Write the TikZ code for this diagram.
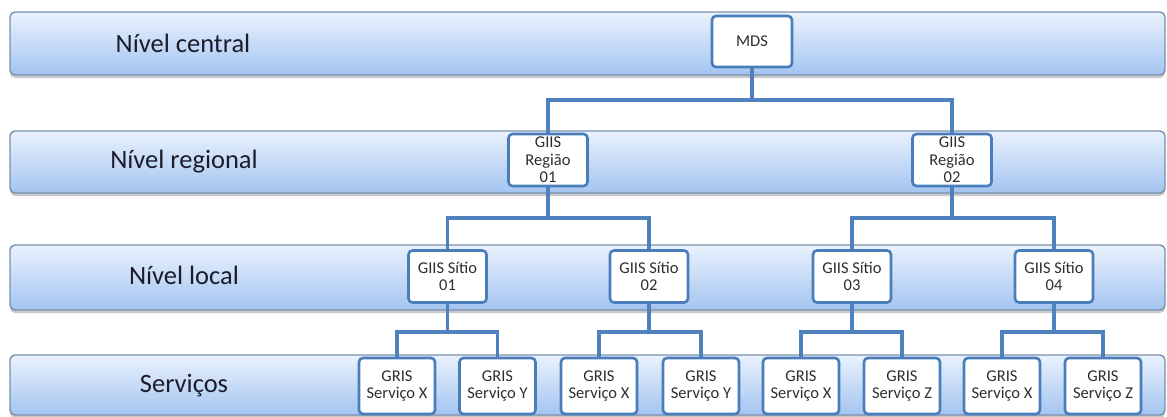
\documentclass[tikz,border=0pt]{standalone}
\usepackage{fontspec}
\setmainfont{Carlito}
\usetikzlibrary{shadows}
\definecolor{bandtop}{HTML}{EAF2FD}
\definecolor{bandbot}{HTML}{A3C4F0}
\definecolor{bandedge}{HTML}{7890B0}
\definecolor{boxedge}{HTML}{4A7EBB}
\definecolor{linkblue}{HTML}{4F81BD}
\definecolor{lvltext}{HTML}{1C1C2A}
\definecolor{boxtext}{HTML}{2E2E2E}
\pgfdeclarelayer{bands}
\pgfdeclarelayer{links}
\pgfsetlayers{bands,links,main}
\begin{document}
\begin{tikzpicture}[x=1pt,y=-1pt,
  band/.style={draw=bandedge, line width=1.4pt, rounded corners=5pt,
    top color=bandtop, bottom color=bandbot, minimum width=1155pt, inner sep=0pt,
    drop shadow={shadow xshift=0pt, shadow yshift=-3pt, opacity=0.3, fill=black!70}},
  lvl/.style={font=\fontsize{26.5}{30}\selectfont, text=lvltext, inner sep=0pt},
  unit/.style={draw=boxedge, line width=2.6pt, fill=white, rounded corners=4pt,
    align=center, inner sep=0pt, text=boxtext,
    font=\fontsize{16.5}{17.5}\selectfont},
  top/.style={unit, minimum width=80pt, minimum height=51pt},
  reg/.style={unit, minimum width=79pt, minimum height=52pt},
  site/.style={unit, minimum width=78pt, minimum height=52pt},
  svc/.style={unit, minimum width=76pt, minimum height=56pt},
  conn/.style={draw=linkblue, line width=3.2pt}]
\useasboundingbox (0,0) rectangle (1167,416);

% level bands
\begin{pgfonlayer}{bands}
\node[band, minimum height=63pt] (b1) at (587.5,43.5) {};
\node[band, minimum height=62pt] (b2) at (587.5,162) {};
\node[band, minimum height=65pt] (b3) at (587.5,277.5) {};
\node[band, minimum height=60pt] (b4) at (587.5,385) {};
\end{pgfonlayer}

% level names
\node[lvl] (l1) at (183,43) {Nível central};
\node[lvl] (l2) at (184,162) {Nível regional};
\node[lvl] (l3) at (184,275) {Nível local};
\node[lvl] (l4) at (184,386) {Serviços};

% bus heights
\coordinate (bus0) at (0,100);
\coordinate (bus1) at (0,218);
\coordinate (bus2) at (0,332);

% units of the hierarchy
\node[top] (mds) at (752,41.5) {MDS};
\node[reg] (r1) at (548,160) {GIIS\\Região\\01};
\node[reg] (r2) at (952,160) {GIIS\\Região\\02};
\node[site] (s1) at (447.5,276.5) {GIIS Sítio\\01};
\node[site] (s2) at (649,276.5) {GIIS Sítio\\02};
\node[site] (s3) at (852,276.5) {GIIS Sítio\\03};
\node[site] (s4) at (1054,276.5) {GIIS Sítio\\04};
\node[svc] (v1) at (397,386) {GRIS\\Serviço X};
\node[svc] (v2) at (497.5,386) {GRIS\\Serviço Y};
\node[svc] (v3) at (599,386) {GRIS\\Serviço X};
\node[svc] (v4) at (701,386) {GRIS\\Serviço Y};
\node[svc] (v5) at (801,386) {GRIS\\Serviço X};
\node[svc] (v6) at (902,386) {GRIS\\Serviço Z};
\node[svc] (v7) at (1002,386) {GRIS\\Serviço X};
\node[svc] (v8) at (1103,386) {GRIS\\Serviço Z};

% tree links, kept beneath the boxes
\begin{pgfonlayer}{links}
\begin{scope}[conn]
  \draw (mds.south) -- (mds.south |- bus0) -| (r1.north);
  \draw (mds.south |- bus0) -| (r2.north);
  \draw (r1.south) -- (r1.south |- bus1) -| (s1.north);
  \draw (r1.south |- bus1) -| (s2.north);
  \draw (r2.south) -- (r2.south |- bus1) -| (s3.north);
  \draw (r2.south |- bus1) -| (s4.north);
  \draw (s1.south) -- (s1.south |- bus2) -| (v1.north);
  \draw (s1.south |- bus2) -| (v2.north);
  \draw (s2.south) -- (s2.south |- bus2) -| (v3.north);
  \draw (s2.south |- bus2) -| (v4.north);
  \draw (s3.south) -- (s3.south |- bus2) -| (v5.north);
  \draw (s3.south |- bus2) -| (v6.north);
  \draw (s4.south) -- (s4.south |- bus2) -| (v7.north);
  \draw (s4.south |- bus2) -| (v8.north);
\end{scope}
\end{pgfonlayer}
\end{tikzpicture}
\end{document}
